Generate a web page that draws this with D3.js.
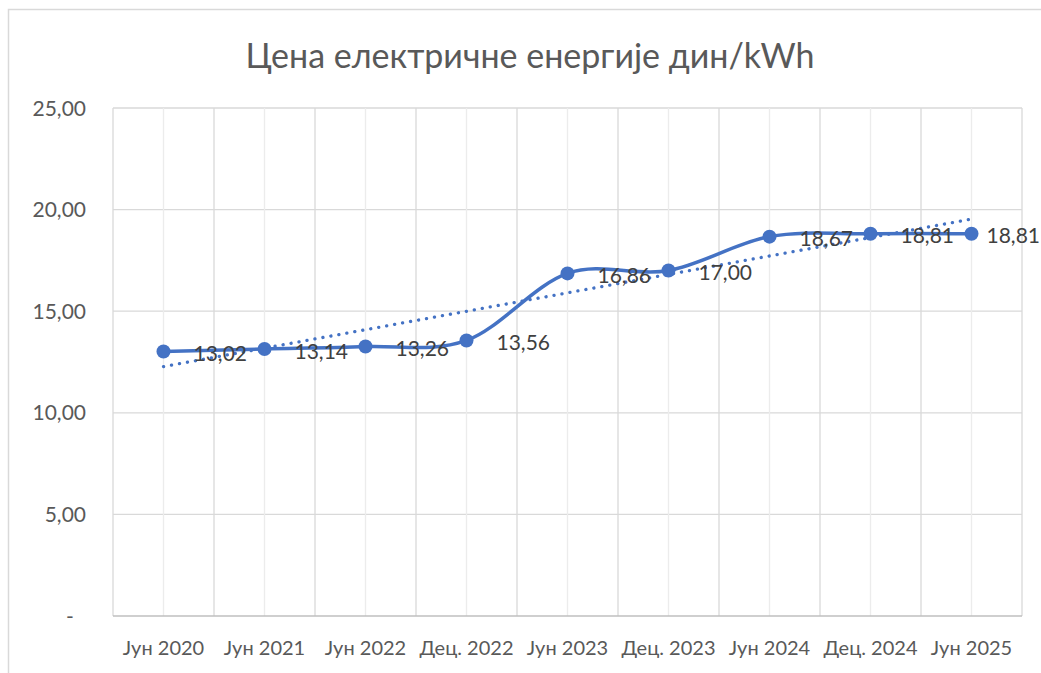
<!DOCTYPE html>
<html>
<head>
<meta charset="utf-8">
<script src="https://cdn.jsdelivr.net/npm/d3@7"></script>
<style>
  body { margin: 0; background: #fff; }
  text { font-family: Lato, "Noto Sans", sans-serif; }
</style>
</head>
<body>
<div id="chart"></div>
<script>
// data
const periods = ['Јун 2020','Јун 2021','Јун 2022','Дец. 2022','Јун 2023','Дец. 2023','Јун 2024','Дец. 2024','Јун 2025'];
const prices = [13.02, 13.14, 13.26, 13.56, 16.86, 17.00, 18.67, 18.81, 18.81];
const yTicks = [0, 5, 10, 15, 20, 25];
const title = 'Цена електричне енергије дин/kWh';

const W = 1041, H = 673;
const margin = {left: 113, right: 19, top: 108, bottom: 57};

const svg = d3.select('#chart').append('svg')
  .attr('width', W).attr('height', H);

// card border
svg.append('rect')
  .attr('x', 8.5).attr('y', 9.5)
  .attr('width', 1060).attr('height', 700)
  .attr('fill', '#fff')
  .attr('stroke', '#d9d9d9').attr('stroke-width', 1.5);

svg.append('text')
  .attr('x', 530).attr('y', 68)
  .attr('text-anchor', 'middle')
  .style('font-size', '34px')
  .style('fill', '#595959')
  .text(title);

const x = d3.scaleBand()
  .domain(periods)
  .range([margin.left, W - margin.right]);
const y = d3.scaleLinear()
  .domain([0, 25])
  .range([H - margin.bottom, margin.top]);

const cx = d => x(d) + x.bandwidth() / 2;
const fmt = v => v === 0 ? '-\u2007' : d3.format('.2f')(v).replace('.', ',');

// gridlines
const g = svg.append('g');
g.selectAll('.hgrid')
  .data(yTicks.filter(t => t > 0))
  .join('line')
  .attr('class', 'hgrid')
  .attr('x1', margin.left).attr('x2', W - margin.right)
  .attr('y1', d => y(d)).attr('y2', d => y(d))
  .attr('stroke', '#d9d9d9').attr('stroke-width', 1.3);

const halfSteps = d3.range(periods.length * 2 + 1);
g.selectAll('.vgrid')
  .data(halfSteps)
  .join('line')
  .attr('class', 'vgrid')
  .attr('x1', i => margin.left + i * x.bandwidth() / 2)
  .attr('x2', i => margin.left + i * x.bandwidth() / 2)
  .attr('y1', y(25)).attr('y2', y(0))
  .attr('stroke', i => i % 2 ? '#ececec' : '#d9d9d9')
  .attr('stroke-width', 1.3);

// x axis line
g.append('line')
  .attr('x1', margin.left).attr('x2', W - margin.right)
  .attr('y1', y(0)).attr('y2', y(0))
  .attr('stroke', '#bfbfbf').attr('stroke-width', 1.5);

// y tick labels
svg.append('g')
  .selectAll('text')
  .data(yTicks)
  .join('text')
  .attr('x', 86).attr('y', d => y(d))
  .attr('dy', '0.36em')
  .attr('text-anchor', 'end')
  .style('font-size', '21px')
  .style('fill', '#595959')
  .text(fmt);

// x tick labels
svg.append('g')
  .selectAll('text')
  .data(periods)
  .join('text')
  .attr('x', cx).attr('y', 648)
  .attr('dy', '0.36em')
  .attr('text-anchor', 'middle')
  .style('font-size', '20px')
  .style('fill', '#595959')
  .text(d => d);

// linear trend (least squares over category index)
const idx = prices.map((v, i) => i);
const mx = d3.mean(idx), my = d3.mean(prices);
const slope = d3.sum(idx, i => (i - mx) * (prices[i] - my)) / d3.sum(idx, i => (i - mx) ** 2);
const icpt = my - slope * mx;
const last = periods.length - 1;

svg.append('line')
  .attr('x1', cx(periods[0])).attr('y1', y(icpt))
  .attr('x2', cx(periods[last])).attr('y2', y(icpt + slope * last))
  .attr('stroke', '#4472c4').attr('stroke-width', 3.3)
  .attr('stroke-linecap', 'round')
  .attr('stroke-dasharray', '0.1 8');

// smoothed series line
const line = d3.line()
  .x((d, i) => cx(periods[i]))
  .y(d => y(d))
  .curve(d3.curveCardinal.tension(0));

svg.append('path')
  .datum(prices)
  .attr('d', line)
  .attr('fill', 'none')
  .attr('stroke', '#4472c4')
  .attr('stroke-width', 3.5);

svg.append('g')
  .selectAll('circle')
  .data(prices)
  .join('circle')
  .attr('cx', (d, i) => cx(periods[i]))
  .attr('cy', d => y(d))
  .attr('r', 7)
  .attr('fill', '#4472c4');

// data labels, right of each point, kept inside the card
const labels = svg.append('g')
  .selectAll('text')
  .data(prices)
  .join('text')
  .attr('y', d => y(d) + 2)
  .attr('dy', '0.36em')
  .style('font-size', '21px')
  .style('fill', '#404040')
  .text(fmt);

labels.attr('x', function(d, i) {
  const w = this.getComputedTextLength();
  return Math.min(cx(periods[i]) + 30, W - w - 1);
});
</script>
</body>
</html>
